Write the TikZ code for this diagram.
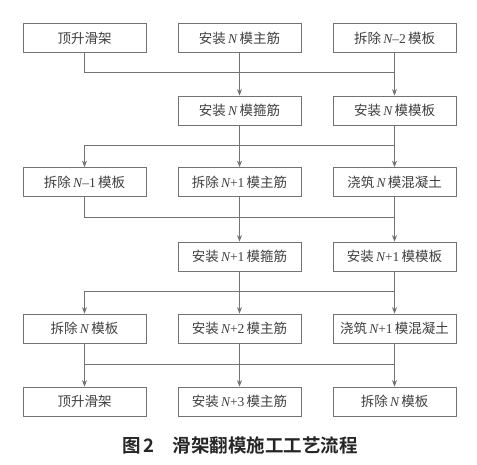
\documentclass[tikz,border=0pt]{standalone}
\usepackage{fontspec}
\setmainfont{Liberation Serif}
\newfontfamily\cjk{Noto Sans CJK SC}
\newfontfamily\cjkb{Noto Sans CJK SC Bold}
\newfontfamily\latn{Liberation Serif}
\usetikzlibrary{arrows.meta}
\newcommand{\NN}{\,{\latn\itshape N}\,}
\newcommand{\NX}[1]{\,{\latn{\itshape N}#1}\,}
\begin{document}
\begin{tikzpicture}[x=1pt,y=-1pt,
  box/.style={draw=black!55, line width=0.8pt, minimum width=123pt, minimum height=29pt, inner sep=0pt, font=\cjk\fontsize{13.5}{15}\selectfont, text=black!75},
  ln/.style={draw=black!55, line width=0.8pt},
  arr/.style={ln, -{Stealth[length=6.5pt,width=5pt,fill=black!75]}}]
\useasboundingbox (0,0) rectangle (477,464);
\fill[white] (0,0) rectangle (477,464);
% row 1
\node[box] (a1) at (84.5,38) {顶升滑架};
\node[box] (b1) at (239.5,38) {安装\NN 模主筋};
\node[box] (c1) at (394.5,38) {拆除\NX{–2}模板};
% row 2
\node[box] (b2) at (239.5,110.5) {安装\NN 模箍筋};
\node[box] (c2) at (394.5,110.5) {安装\NN 模模板};
% row 3
\node[box] (a3) at (84.5,182) {拆除\NX{–1}模板};
\node[box] (b3) at (239.5,182) {拆除\NX{+1}模主筋};
\node[box] (c3) at (394.5,182) {浇筑\NN 模混凝土};
% row 4
\node[box] (b4) at (239.5,256.5) {安装\NX{+1}模箍筋};
\node[box] (c4) at (394.5,256.5) {安装\NX{+1}模模板};
% row 5
\node[box] (a5) at (84.5,328.5) {拆除\NN 模板};
\node[box] (b5) at (239.5,328.5) {安装\NX{+2}模主筋};
\node[box] (c5) at (394.5,328.5) {浇筑\NX{+1}模混凝土};
% row 6
\node[box] (a6) at (84.5,401.5) {顶升滑架};
\node[box] (b6) at (239.5,401.5) {安装\NX{+3}模主筋};
\node[box] (c6) at (394.5,401.5) {拆除\NN 模板};
% caption
\node[font=\cjkb\fontsize{18.5}{21}\selectfont, text=black!85] (cap) at (240,445) {图\,2\quad 滑架翻模施工工艺流程};
% junction coordinates
\coordinate (j1) at (c1.south |- 0,72.5);
\coordinate (j2) at (c2.south |- 0,145.5);
\coordinate (j3) at (c3.south |- 0,217.5);
\coordinate (j4) at (c4.south |- 0,291.5);
\coordinate (j5) at (c5.south |- 0,364);
% connectors 1-2
\draw[ln] (a1.south) |- (j1);
\draw[arr] (b1) -- (b2);
\draw[arr] (c1) -- (c2);
% 2-3
\draw[arr] (j2) -| (a3.north);
\draw[arr] (b2) -- (b3);
\draw[arr] (c2) -- (c3);
% 3-4
\draw[ln] (a3.south) |- (j3);
\draw[arr] (b3) -- (b4);
\draw[arr] (c3) -- (c4);
% 4-5
\draw[arr] (j4) -| (a5.north);
\draw[arr] (b4) -- (b5);
\draw[arr] (c4) -- (c5);
% 5-6
\draw[ln] (a5.south |- j5) -- (j5);
\draw[arr] (a5) -- (a6);
\draw[arr] (b5) -- (b6);
\draw[arr] (c5) -- (c6);
\end{tikzpicture}
\end{document}
